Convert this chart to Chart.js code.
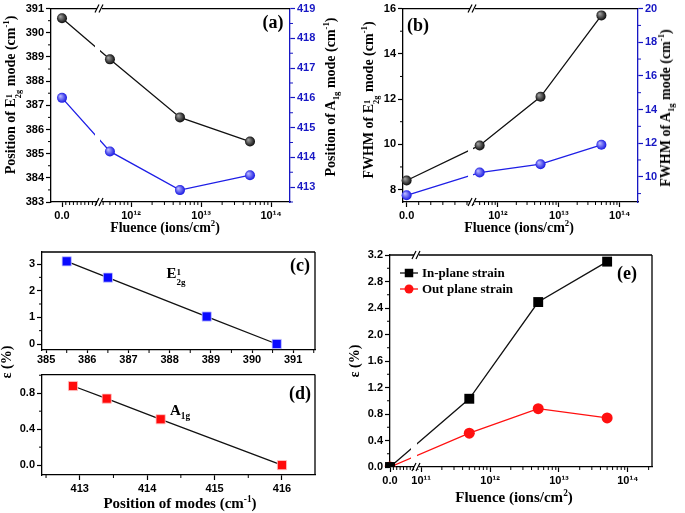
<!DOCTYPE html>
<html>
<head>
<meta charset="utf-8">
<script src="https://cdn.jsdelivr.net/npm/chart.js@4.4.1/dist/chart.umd.min.js"></script>
<style>
body { margin: 0; background: #fff; width: 685px; height: 513px; overflow: hidden; position: relative; font-family: "Liberation Serif", serif; }
.box { position: absolute; }
.t { position: absolute; font-weight: bold; white-space: nowrap; transform: translate(-50%, -50%); line-height: 1; color: #000; }
.r { transform: translate(-50%, -50%) rotate(-90deg); }
.ss { display: inline-flex; flex-direction: column; font-size: .6em; line-height: 1.05; vertical-align: .3em; }
sup, sub { font-size: .62em; line-height: 0; }
</style>
</head>
<body>
<div class="box" style="left:0;top:0;width:345px;height:222px"><canvas id="ca"></canvas></div>
<div class="box" style="left:345px;top:0;width:340px;height:222px"><canvas id="cb"></canvas></div>
<div class="box" style="left:0;top:240px;width:345px;height:132px"><canvas id="cc"></canvas></div>
<div class="box" style="left:0;top:366px;width:345px;height:147px"><canvas id="cd"></canvas></div>
<div class="box" style="left:345px;top:232px;width:340px;height:281px"><canvas id="ce"></canvas></div>

<div class="t r" style="left:14px;top:95px;font-size:14px">Position of E<span class="ss"><span>1</span><span>2g</span></span> mode (cm<sup>-1</sup>)</div>
<div class="t r" style="left:331px;top:97px;font-size:14px">Position of A<sub>1g</sub> mode (cm<sup>-1</sup>)</div>
<div class="t" style="left:165px;top:228px;font-size:14px">Fluence (ions/cm<sup>2</sup>)</div>
<div class="t" style="left:273px;top:22px;font-size:18px">(a)</div>

<div class="t r" style="left:372px;top:100px;font-size:14px">FWHM of E<span class="ss"><span>1</span><span>2g</span></span> mode (cm<sup>-1</sup>)</div>
<div class="t r" style="left:666px;top:108px;font-size:14px">FWHM of A<sub>1g</sub> mode (cm<sup>-1</sup>)</div>
<div class="t" style="left:519px;top:228px;font-size:14px">Fluence (ions/cm<sup>2</sup>)</div>
<div class="t" style="left:418px;top:25px;font-size:18px">(b)</div>

<div class="t r" style="left:7px;top:362px;font-size:14px">ε (%)</div>
<div class="t" style="left:176px;top:277px;font-size:15px">E<span class="ss"><span>1</span><span>2g</span></span></div>
<div class="t" style="left:300px;top:265px;font-size:18px">(c)</div>
<div class="t" style="left:180px;top:410px;font-size:15px">A<sub>1g</sub></div>
<div class="t" style="left:300px;top:393px;font-size:18px">(d)</div>
<div class="t" style="left:180px;top:503px;font-size:15px">Position of modes (cm<sup>-1</sup>)</div>

<div class="t" style="left:627px;top:273px;font-size:18px">(e)</div>
<div class="t r" style="left:355px;top:361px;font-size:14px">ε (%)</div>
<div class="t" style="left:514px;top:497px;font-size:15px">Fluence (ions/cm<sup>2</sup>)</div>

<script>
// fluence in ions/cm2, 0 = pristine
const fluence = [0, 5e11, 5e12, 5e13];
const posE2g = [390.6, 388.9, 386.5, 385.5];
const posA1g = [416.0, 414.2, 412.9, 413.4];
const fwhmE2g = [8.4, 9.95, 12.1, 15.7];
const fwhmA1g = [8.9, 10.25, 10.75, 11.9];
const strainIn = [0, 1.03, 2.49, 3.1];
const strainOut = [0, 0.51, 0.88, 0.74];

const ticksPosE = [383, 384, 385, 386, 387, 388, 389, 390, 391];
const ticksPosA = [413, 414, 415, 416, 417, 418, 419];
const ticksFwE = [8, 10, 12, 14, 16];
const ticksFwA = [10, 12, 14, 16, 18, 20];
const ticksCx = [385, 386, 387, 388, 389, 390, 391];
const ticksCy = [0, 1, 2, 3];
const ticksDx = [413, 414, 415, 416];
const ticksDy = [0, 0.4, 0.8];
const ticksEy = [0, 0.4, 0.8, 1.2, 1.6, 2.0, 2.4, 2.8, 3.2];

const BLUE = '#1e1ee6';
const BLUE_AX = '#1717c4';
const tickFont = { family: 'Liberation Sans', weight: 'bold', size: 11 };
const sup = { '0': '⁰', '1': '¹', '2': '²', '3': '³', '4': '⁴', '5': '⁵', '6': '⁶', '7': '⁷', '8': '⁸', '9': '⁹' };

// linear piece for 0, then a break, then log decades
class BrokenLogScale extends Chart.Scale {
    static id = 'brokenLog';
    static defaults = {};
    determineDataLimits() {
        this.min = this.options.linMin;
        this.max = Math.pow(10, this.options.logMax);
    }
    buildTicks() {
        const o = this.options;
        const t = [{ value: 0 }];
        for (let e = Math.ceil(o.logMin); e <= o.logMax; e++) t.push({ value: Math.pow(10, e) });
        return t;
    }
    getLabelForValue(v) { return String(v); }
    toDecimal(v) {
        const o = this.options;
        if (v <= o.linMax && v < Math.pow(10, o.logMin)) return (v - o.linMin) / (o.linMax - o.linMin) * o.breakAt;
        return o.breakAt + (Math.log10(v) - o.logMin) / (o.logMax - o.logMin) * (1 - o.breakAt);
    }
    getPixelForValue(v) { return this.getPixelForDecimal(this.toDecimal(v)); }
    getValueForPixel(p) {
        const o = this.options, d = this.getDecimalForPixel(p);
        if (d < o.breakAt) return o.linMin + d / o.breakAt * (o.linMax - o.linMin);
        return Math.pow(10, o.logMin + (d - o.breakAt) / (1 - o.breakAt) * (o.logMax - o.logMin));
    }
    minorValues() {
        const o = this.options, out = [];
        for (let k = 1; k * o.linStep < o.linMax - 1; k++) out.push(k * o.linStep);
        for (let n = Math.floor(o.logMin); n <= Math.floor(o.logMax); n++) {
            for (let k = 2; k <= 9; k++) {
                const l = Math.log10(k) + n;
                if (l > o.logMin && l < o.logMax) out.push(k * Math.pow(10, n));
            }
        }
        return out;
    }
}
Chart.register(BrokenLogScale);

const fluenceAxis = (p, h) => ({
    type: 'brokenLog', position: 'bottom',
    linMin: p.linMin, linMax: p.linMax, linStep: p.linStep,
    logMin: p.logMin, logMax: p.logMax, breakAt: p.breakAt,
    afterFit: s => { s.height = h; },
    grid: { drawOnChartArea: false, tickLength: 5, tickColor: '#000', tickWidth: 1.2 },
    border: { color: '#000', width: 1.3 },
    ticks: {
        color: '#000', font: tickFont, padding: 2, autoSkip: false, maxRotation: 0,
        callback: v => v === 0 ? '0.0' : '10' + String(Math.round(Math.log10(v))).split('').map(c => sup[c]).join('')
    }
});

const axis = (pos, min, max, vals, color, size, fmt) => ({
    type: 'linear', position: pos, min, max,
    afterBuildTicks: s => { s.ticks = vals.map(v => ({ value: v })); },
    afterFit: s => { if (pos === 'bottom') s.height = size; else s.width = size; },
    grid: { drawOnChartArea: false, tickLength: 5, tickColor: color, tickWidth: 1.2 },
    border: { color, width: 1.3 },
    ticks: { color, font: tickFont, padding: 2, autoSkip: false, maxRotation: 0, callback: fmt }
});

const baseOptions = (pad, scales) => ({
    responsive: true, maintainAspectRatio: false, animation: false, events: [],
    layout: { padding: { top: pad.top, right: pad.right || 0, left: 0, bottom: 0 }, autoPadding: false },
    plugins: { legend: { display: false }, tooltip: { enabled: false } },
    scales
});

// shaded ball markers
const sphere = (dark, light) => c => {
    if (!c.parsed) return dark;
    const ch = c.chart;
    const yId = ch.data.datasets[c.datasetIndex].yAxisID || 'y';
    const x = ch.scales.x.getPixelForValue(c.parsed.x);
    const y = ch.scales[yId].getPixelForValue(c.parsed.y);
    if (!isFinite(x) || !isFinite(y)) return dark;
    const g = ch.ctx.createRadialGradient(x - 1.8, y - 1.8, 0.3, x, y, 5.5);
    g.addColorStop(0, light);
    g.addColorStop(1, dark);
    return g;
};

const midpoints = s => {
    const t = s.ticks.map(k => k.value), out = [];
    if (t.length < 2) return out;
    const step = t[1] - t[0];
    if (t[0] - step / 2 >= s.min) out.push(t[0] - step / 2);
    for (let i = 0; i < t.length - 1; i++) out.push((t[i] + t[i + 1]) / 2);
    if (t[t.length - 1] + step / 2 <= s.max) out.push(t[t.length - 1] + step / 2);
    return out;
};

const decor = opt => ({
    id: 'decor',
    afterDatasetsDraw(chart) {
        const x = chart.scales.x;
        if (!(x instanceof BrokenLogScale)) return;
        const a = chart.chartArea, bx = x.getPixelForDecimal(x.options.breakAt);
        chart.ctx.save();
        chart.ctx.fillStyle = '#fff';
        chart.ctx.fillRect(bx - opt.gap, a.top + 1, opt.gap, a.bottom - a.top - 2);
        chart.ctx.restore();
    },
    afterDraw(chart) {
        const ctx = chart.ctx, a = chart.chartArea;
        ctx.save();
        ctx.lineWidth = 1.3;
        ctx.strokeStyle = '#000';
        ctx.beginPath();
        ctx.moveTo(a.left, a.top); ctx.lineTo(a.right, a.top);
        if (!chart.scales.y1) { ctx.moveTo(a.right, a.top); ctx.lineTo(a.right, a.bottom); }
        ctx.stroke();

        Object.values(chart.scales).forEach(s => {
            const vals = s.minorValues ? s.minorValues() : midpoints(s);
            ctx.strokeStyle = s.options.border.color;
            ctx.lineWidth = 1;
            ctx.beginPath();
            vals.forEach(v => {
                const p = s.getPixelForValue(v);
                if (s.position === 'bottom') { ctx.moveTo(p, a.bottom); ctx.lineTo(p, a.bottom + 3); }
                else if (s.position === 'left') { ctx.moveTo(a.left - 3, p); ctx.lineTo(a.left, p); }
                else { ctx.moveTo(a.right, p); ctx.lineTo(a.right + 3, p); }
            });
            ctx.stroke();
        });

        const x = chart.scales.x;
        if (x instanceof BrokenLogScale) {
            const bx = x.getPixelForDecimal(x.options.breakAt);
            [a.top, a.bottom].forEach(y => {
                ctx.fillStyle = '#fff';
                ctx.fillRect(bx - 3, y - 2, 5, 4);
                ctx.strokeStyle = '#000';
                ctx.lineWidth = 1.2;
                ctx.beginPath();
                ctx.moveTo(bx - 5, y + 4); ctx.lineTo(bx - 1, y - 4);
                ctx.moveTo(bx - 1, y + 4); ctx.lineTo(bx + 3, y - 4);
                ctx.stroke();
            });
        }

        if (opt.legend) {
            ctx.font = 'bold 13px "Liberation Serif"';
            ctx.textBaseline = 'middle';
            chart.data.datasets.forEach((ds, i) => {
                const y = a.top + 18 + i * 16, x0 = a.left + 10;
                ctx.strokeStyle = ds.borderColor;
                ctx.lineWidth = 1.3;
                ctx.beginPath(); ctx.moveTo(x0, y); ctx.lineTo(x0 + 18, y); ctx.stroke();
                ctx.fillStyle = ds.pointBackgroundColor;
                Chart.helpers.drawPoint(ctx, { pointStyle: ds.pointStyle, radius: ds.pointRadius - 1, rotation: 0, borderWidth: 0 }, x0 + 9, y);
                ctx.fillStyle = '#000';
                ctx.fillText(ds.label, x0 + 22, y + 1);
            });
        }
        ctx.restore();
    }
});

const xy = (xs, ys) => xs.map((x, i) => ({ x, y: ys[i] }));
const intFmt = v => String(v);
const oneDec = v => v.toFixed(1);

// (a) peak positions
new Chart(document.getElementById('ca'), {
    type: 'line',
    data: {
        datasets: [
            { data: xy(fluence, posE2g), yAxisID: 'y', borderColor: '#111', borderWidth: 1.3, pointRadius: 5, pointBorderWidth: 0, pointBackgroundColor: sphere('#000', '#a0a0a0') },
            { data: xy(fluence, posA1g), yAxisID: 'y1', borderColor: BLUE, borderWidth: 1.3, pointRadius: 5, pointBorderWidth: 0, pointBackgroundColor: sphere('#0a0ae0', '#b8b8ff') }
        ]
    },
    options: baseOptions({ top: 6 }, {
        x: fluenceAxis({ linMin: -0.29e11, linMax: 1e11, linStep: 1e10, logMin: 11.557, logMax: 14.27, breakAt: 0.205 }, 20),
        y: axis('left', 383, 391, ticksPosE, '#000', 51, intFmt),
        y1: axis('right', 412.5, 419, ticksPosA, BLUE_AX, 55, intFmt)
    }),
    plugins: [decor({ gap: 5 })]
});

// (b) FWHM
new Chart(document.getElementById('cb'), {
    type: 'line',
    data: {
        datasets: [
            { data: xy(fluence, fwhmE2g), yAxisID: 'y', borderColor: '#111', borderWidth: 1.3, pointRadius: 5, pointBorderWidth: 0, pointBackgroundColor: sphere('#000', '#a0a0a0') },
            { data: xy(fluence, fwhmA1g), yAxisID: 'y1', borderColor: BLUE, borderWidth: 1.3, pointRadius: 5, pointBorderWidth: 0, pointBackgroundColor: sphere('#0a0ae0', '#b8b8ff') }
        ]
    },
    options: baseOptions({ top: 8 }, {
        x: fluenceAxis({ linMin: -0.3e10, linMax: 5.5e10, linStep: 1e10, logMin: 11.59, logMax: 14.3, breakAt: 0.298 }, 20),
        y: axis('left', 7.45, 16, ticksFwE, '#000', 58, intFmt),
        y1: axis('right', 8.5, 20, ticksFwA, BLUE_AX, 47, intFmt)
    }),
    plugins: [decor({ gap: 5 })]
});

// (c) in-plane strain vs E2g position
const cX = axis('bottom', 384.9, 391.53, ticksCx, '#000', 22, intFmt);
cX.grid.tickLength = 3;
cX.ticks.padding = 0;
new Chart(document.getElementById('cc'), {
    type: 'line',
    data: {
        datasets: [
            { data: xy(posE2g, strainIn).sort((p, q) => p.x - q.x), borderColor: '#111', borderWidth: 1.3, pointStyle: 'rect', pointRadius: 6.5, pointBackgroundColor: '#0a0aff', pointBorderColor: '#c8c8ff', pointBorderWidth: 0.8 }
        ]
    },
    options: baseOptions({ top: 12, right: 30 }, {
        x: cX,
        y: axis('left', -0.225, 3.45, ticksCy, '#000', 42, intFmt)
    }),
    plugins: [decor({})]
});

// (d) out-of-plane strain vs A1g position
new Chart(document.getElementById('cd'), {
    type: 'line',
    data: {
        datasets: [
            { data: xy(posA1g, strainOut).sort((p, q) => p.x - q.x), borderColor: '#111', borderWidth: 1.3, pointStyle: 'rect', pointRadius: 6.5, pointBackgroundColor: '#ff0a0a', pointBorderColor: '#ffc8c8', pointBorderWidth: 0.8 }
        ]
    },
    options: baseOptions({ top: 8, right: 30 }, {
        x: axis('bottom', 412.44, 416.49, ticksDx, '#000', 38, intFmt),
        y: axis('left', -0.11, 1.007, ticksDy, '#000', 42, oneDec)
    }),
    plugins: [decor({})]
});

// (e) strain vs fluence
new Chart(document.getElementById('ce'), {
    type: 'line',
    data: {
        datasets: [
            { label: 'In-plane strain', data: xy(fluence, strainIn), borderColor: '#111', borderWidth: 1.3, pointStyle: 'rect', pointRadius: 7, pointBackgroundColor: '#000', pointBorderWidth: 0 },
            { label: 'Out plane strain', data: xy(fluence, strainOut), borderColor: '#ff1010', borderWidth: 1.3, pointStyle: 'circle', pointRadius: 5.5, pointBackgroundColor: '#ff1010', pointBorderWidth: 0 }
        ]
    },
    options: baseOptions({ top: 23, right: 33 }, {
        x: fluenceAxis({ linMin: 0, linMax: 8e10, linStep: 1e10, logMin: 10.94, logMax: 14.35, breakAt: 0.103 }, 46),
        y: axis('left', 0, 3.2, ticksEy, '#000', 45, oneDec)
    }),
    plugins: [decor({ gap: 6, legend: true })]
});
</script>
</body>
</html>
